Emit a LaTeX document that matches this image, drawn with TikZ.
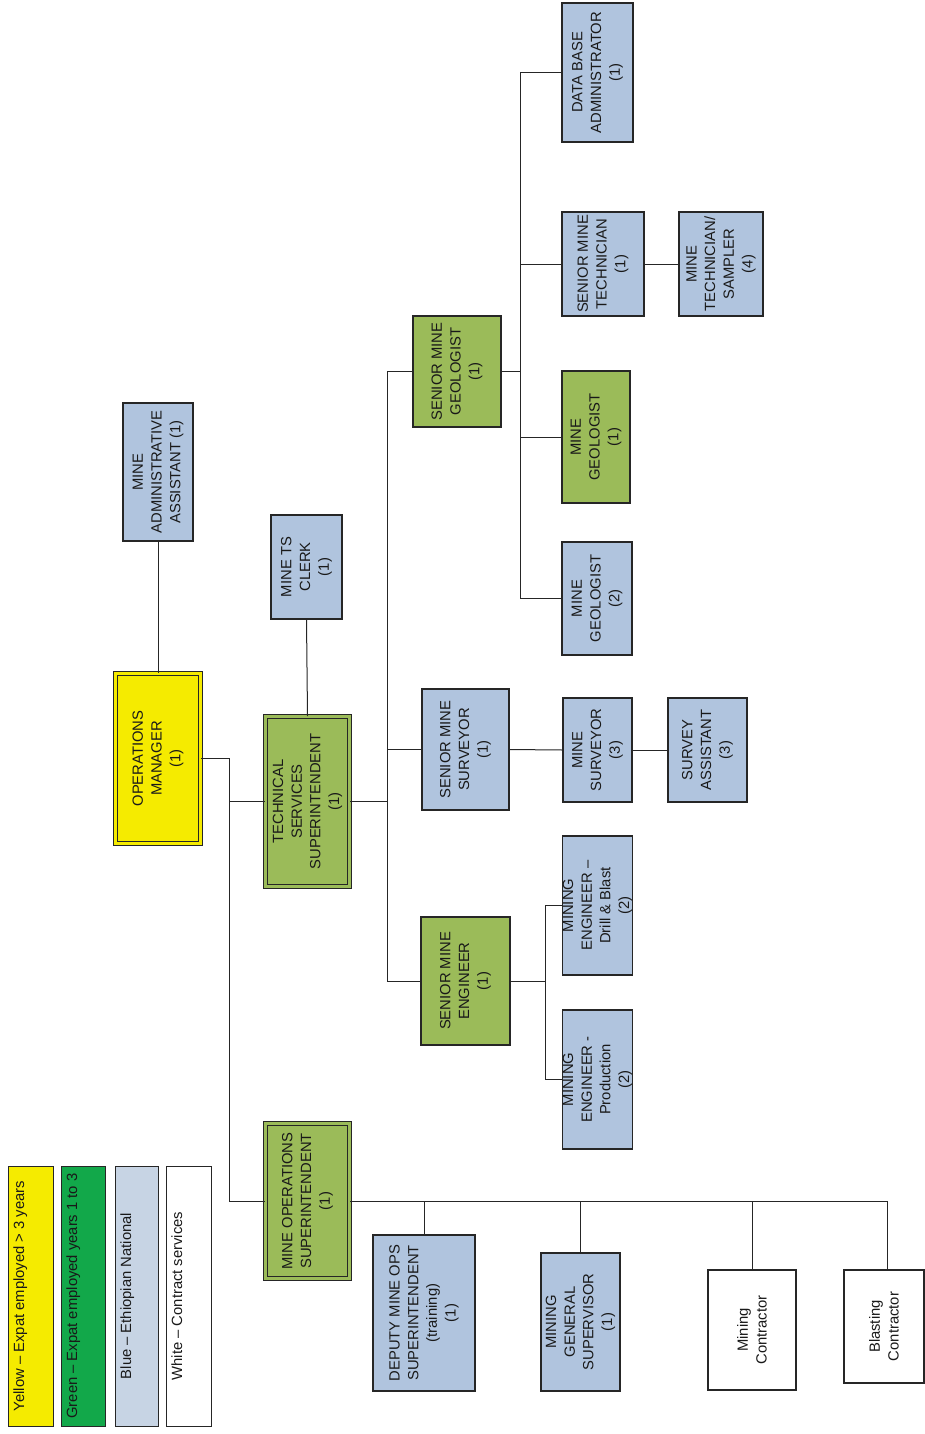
\documentclass[tikz,border=0pt]{standalone}
\usepackage{fontspec}
\setmainfont{Liberation Sans}
\usepackage{tikz}

\definecolor{postyellow}{RGB}{245,235,0}
\definecolor{postgreen}{RGB}{155,187,89}
\definecolor{postblue}{RGB}{176,196,222}
\definecolor{keygreen}{RGB}{18,168,74}
\definecolor{keyblue}{RGB}{199,212,228}

\tikzset{
	post/.style={draw=black!85, line width=1.1pt, rotate=90, align=center, inner sep=0pt,
		text=black!90, font=\fontsize{14.8}{18.7}\selectfont},
	bluepost/.style={post, fill=postblue},
	greenpost/.style={post, fill=postgreen},
	whitepost/.style={post, fill=white},
	headpost/.style={post, line width=1pt, double distance=2.4pt},
	keybox/.style={post, line width=0.9pt, minimum width=260pt, text height=16pt},
	link/.style={draw=black!85, line width=1pt}
}

\begin{document}
\begin{tikzpicture}[x=1pt, y=-1pt]
	\useasboundingbox (0,0) rectangle (925,1434);
	
	% legend
	\node[keybox, fill=postyellow, text depth=29pt] (keyy) at (30.5,1296) {Yellow -- Expat employed > 3 years};
	\node[keybox, fill=keygreen, text depth=28pt] (keyg) at (83,1296) {Green -- Expat employed years 1 to 3};
	\node[keybox, fill=keyblue, text depth=27pt] (keyb) at (136.5,1296) {Blue -- Ethiopian National};
	\node[keybox, fill=white, text depth=29pt] (keyw) at (188.5,1296) {White -- Contract services};
	
	% management
	\node[headpost, double=postyellow, fill=postyellow, minimum width=170pt, minimum height=85pt] (om) at (158,758.5) {OPERATIONS\\MANAGER\\(1)};
	\node[bluepost, minimum width=138pt, minimum height=70pt] (adm) at (158,472) {MINE\\ADMINISTRATIVE\\ASSISTANT (1)};
	\node[headpost, double=postgreen, fill=postgreen, minimum width=170pt, minimum height=84pt] (tss) at (307.5,801.5) {TECHNICAL\\SERVICES\\SUPERINTENDENT\\(1)};
	\node[bluepost, minimum width=104pt, minimum height=71pt] (clk) at (306.5,567) {MINE TS\\CLERK\\(1)};
	\node[headpost, double=postgreen, fill=postgreen, minimum width=155pt, minimum height=84pt] (mos) at (307.5,1201) {MINE OPERATIONS\\SUPERINTENDENT\\(1)};
	
	% technical services
	\node[greenpost, minimum width=111pt, minimum height=88pt] (smg) at (457,371.5) {SENIOR MINE\\GEOLOGIST\\(1)};
	\node[bluepost, minimum width=121pt, minimum height=87pt] (ssv) at (465.5,749.5) {SENIOR MINE\\SURVEYOR\\(1)};
	\node[greenpost, minimum width=128pt, minimum height=89pt] (sme) at (465.5,981) {SENIOR MINE\\ENGINEER\\(1)};
	
	\node[bluepost, minimum width=139pt, minimum height=71pt] (dba) at (597.5,72.5) {DATA BASE\\ADMINISTRATOR\\(1)};
	\node[bluepost, minimum width=104pt, minimum height=82pt] (smt) at (603,264) {SENIOR MINE\\TECHNICIAN\\(1)};
	\node[bluepost, minimum width=104pt, minimum height=84pt] (mts) at (721,264) {MINE\\TECHNICIAN/\\SAMPLER\\(4)};
	\node[greenpost, minimum width=132pt, minimum height=68pt] (mg1) at (596,437) {MINE\\GEOLOGIST\\(1)};
	\node[bluepost, minimum width=113pt, minimum height=70pt] (mg2) at (597,598.5) {MINE\\GEOLOGIST\\(2)};
	
	\node[bluepost, minimum width=104pt, minimum height=69pt] (msv) at (597.5,750) {MINE\\SURVEYOR\\(3)};
	\node[bluepost, minimum width=104pt, minimum height=79pt] (sva) at (707.5,750) {SURVEY\\ASSISTANT\\(3)};
	
	\node[bluepost, minimum width=139pt, minimum height=69pt] (mdb) at (597.5,905.5) {MINING\\ENGINEER --\\Drill \& Blast\\(2)};
	\node[bluepost, minimum width=139pt, minimum height=69pt] (mpr) at (597.5,1079.5) {MINING\\ENGINEER -\\Production\\(2)};
	
	% mine operations
	\node[bluepost, minimum width=156pt, minimum height=102pt] (dep) at (424,1313) {DEPUTY MINE OPS\\SUPERINTENDENT\\(training)\\(1)};
	\node[bluepost, minimum width=138pt, minimum height=79pt] (mgs) at (580.5,1322) {MINING\\GENERAL\\SUPERVISOR\\(1)};
	\node[whitepost, minimum width=120pt, minimum height=88pt] (mct) at (752,1330) {Mining\\Contractor};
	\node[whitepost, minimum width=113pt, minimum height=80pt] (bct) at (884,1326.5) {Blasting\\Contractor};
	
	% junctions
	\coordinate (jom) at (229,0);
	\coordinate (jtss) at (387,0);
	\coordinate (jsmg) at (520,0);
	\coordinate (jsme) at (545,0);
	\coordinate (jbct) at (887,0);
	
	\path[link] (om.east) -- (adm.west);
	\path[link] (om.south) -| (jom |- mos.north) -- (mos.north);
	\path[link] (jom |- tss.north) -- (tss.north);
	\path[link] (tss.east) -- (clk.west);
	
	\path[link] (tss.south) -- (jtss |- tss.south);
	\path[link] (smg.north) -| (jtss |- sme.north) -- (sme.north);
	\path[link] (jtss |- ssv.north) -- (ssv.north);
	
	\path[link] (smg.south) -- (jsmg |- smg.south);
	\path[link] (dba.north) -| (jsmg |- mg2.north) -- (mg2.north);
	\path[link] (jsmg |- smt.north) -- (smt.north);
	\path[link] (jsmg |- mg1.north) -- (mg1.north);
	\path[link] (smt.south) -- (mts.north);
	
	\path[link] (ssv.south) -- (msv.north);
	\path[link] (msv.south) -- (sva.north);
	
	\path[link] (sme.south) -- (jsme |- sme.south);
	\path[link] (mdb.north) -| (jsme |- mpr.north) -- (mpr.north);
	
	\path[link] (mos.south) -| (jbct |- bct.east) -- (jbct |- bct.east);
	\path[link] (dep.east) -- (dep.east |- mos.south);
	\path[link] (mgs.east) -- (mgs.east |- mos.south);
	\path[link] (mct.east) -- (mct.east |- mos.south);
\end{tikzpicture}
\end{document}
